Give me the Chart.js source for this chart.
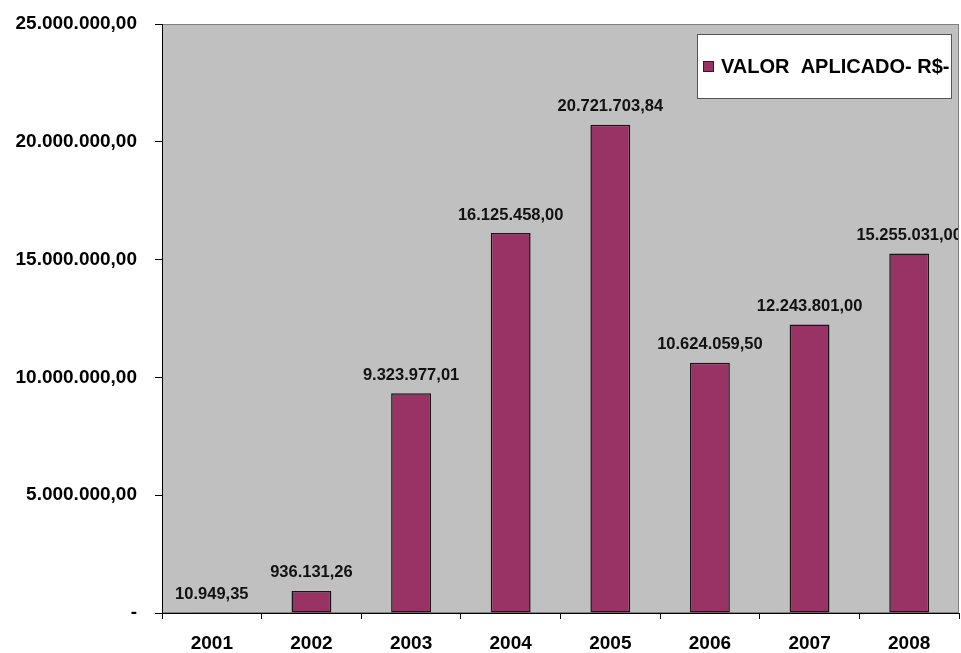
<!DOCTYPE html>
<html>
<head>
<meta charset="utf-8">
<script src="https://cdn.jsdelivr.net/npm/chart.js@4"></script>
<style>
  html, body { margin: 0; padding: 0; background: #ffffff; }
  #wrap { width: 961px; height: 653px; }
</style>
</head>
<body>
<div id="wrap"><canvas id="valorChart" width="961" height="653"></canvas></div>
<script>
const anos = ["2001", "2002", "2003", "2004", "2005", "2006", "2007", "2008"];
const valorAplicado = [10949.35, 936131.26, 9323977.01, 16125458.00, 20721703.84, 10624059.50, 12243801.00, 15255031.00];
const serieNome = "VALOR  APLICADO- R$-";
const eixoMax = 25000000;
const eixoPasso = 5000000;

const fonte = "Arial, 'Liberation Sans', sans-serif";

// 1234567.8 -> "1.234.567,80"
function formatBR(v) {
    const partes = v.toFixed(2).split(".");
    const inteiro = partes[0].replace(/\B(?=(\d{3})+(?!\d))/g, ".");
    return inteiro + "," + partes[1];
}

// gray plot background with thin border
const fundoPlot = {
    id: "fundoPlot",
    beforeDraw(chart) {
        const { ctx, chartArea: a } = chart;
        ctx.save();
        ctx.fillStyle = "#c0c0c0";
        ctx.fillRect(a.left, a.top, a.right - a.left, a.bottom - a.top);
        ctx.strokeStyle = "#808080";
        ctx.lineWidth = 1;
        ctx.strokeRect(a.left + 0.5, a.top + 0.5, a.right - a.left - 1, a.bottom - a.top - 1);
        ctx.restore();
    }
};

// value labels above each bar
const rotulos = {
    id: "rotulos",
    afterDatasetsDraw(chart) {
        const { ctx, chartArea: a } = chart;
        const meta = chart.getDatasetMeta(0);
        ctx.save();
        ctx.beginPath();
        ctx.rect(a.left, a.top, a.right - a.left - 1, a.bottom - a.top);
        ctx.clip();
        ctx.font = "bold 16.5px " + fonte;
        ctx.fillStyle = "#111111";
        ctx.textAlign = "center";
        ctx.textBaseline = "middle";
        meta.data.forEach((bar, i) => {
            ctx.fillText(formatBR(chart.data.datasets[0].data[i]), bar.x, bar.y - 18);
        });
        ctx.restore();
    }
};

// boxed legend inside the plot, top right
const legendaCaixa = {
    id: "legendaCaixa",
    afterDraw(chart) {
        const { ctx, chartArea: a } = chart;
        const ds = chart.data.datasets[0];
        const x0 = a.right - 262, y0 = a.top + 10, w = 254, h = 64;
        ctx.save();
        ctx.fillStyle = "#ffffff";
        ctx.fillRect(x0, y0, w, h);
        ctx.strokeStyle = "#555555";
        ctx.lineWidth = 1;
        ctx.strokeRect(x0 + 0.5, y0 + 0.5, w, h);
        const cy = y0 + h / 2 + 1;
        ctx.fillStyle = ds.backgroundColor;
        ctx.fillRect(x0 + 6, cy - 6, 11, 11);
        ctx.strokeStyle = "#222222";
        ctx.strokeRect(x0 + 6.5, cy - 5.5, 10, 10);
        ctx.fillStyle = "#000000";
        ctx.font = "bold 20px " + fonte;
        ctx.textAlign = "left";
        ctx.textBaseline = "middle";
        ctx.fillText(ds.label, x0 + 24, cy);
        ctx.restore();
    }
};

new Chart(document.getElementById("valorChart"), {
    type: "bar",
    data: {
        labels: anos,
        datasets: [{
            label: serieNome,
            data: valorAplicado,
            backgroundColor: "#993366",
            borderColor: "#151515",
            borderWidth: 1.5,
            borderSkipped: false,
            categoryPercentage: 0.8,
            barPercentage: 0.5
        }]
    },
    options: {
        responsive: false,
        animation: false,
        layout: { padding: { top: 24, right: 2, left: 0, bottom: 0 } },
        plugins: {
            legend: { display: false },
            tooltip: { enabled: false }
        },
        scales: {
            x: {
                afterFit(scale) { scale.height = 40; },
                grid: {
                    offset: true,
                    drawOnChartArea: false,
                    drawTicks: true,
                    tickLength: 6,
                    color: "#000000"
                },
                border: { display: true, color: "#000000", width: 1 },
                ticks: {
                    color: "#000000",
                    padding: 13,
                    font: { family: fonte, size: 19, weight: "bold" }
                }
            },
            y: {
                min: 0,
                max: eixoMax,
                afterFit(scale) {
                    scale.width = 162;
                    scale.paddingTop = 0;
                    scale.paddingBottom = 0;
                },
                grid: {
                    drawOnChartArea: false,
                    drawTicks: true,
                    tickLength: 7,
                    color: "#000000"
                },
                border: { display: true, color: "#000000", width: 1 },
                ticks: {
                    stepSize: eixoPasso,
                    color: "#000000",
                    padding: 18,
                    font: { family: fonte, size: 19, weight: "bold" },
                    callback: (v) => v === 0 ? "-" : formatBR(v)
                }
            }
        }
    },
    plugins: [fundoPlot, rotulos, legendaCaixa]
});
</script>
</body>
</html>
